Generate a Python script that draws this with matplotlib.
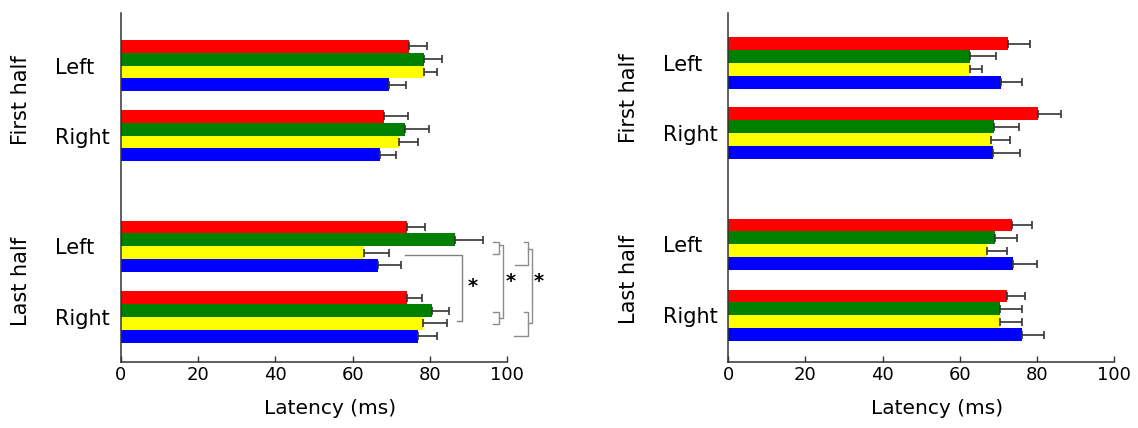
import numpy as np
import matplotlib
matplotlib.use("Agg")
import matplotlib.pyplot as plt
from matplotlib.transforms import blended_transform_factory

plt.rcParams['font.family'] = ['DejaVu Sans']

# rows top -> bottom: First half Left, First half Right, Last half Left, Last half Right
rows = ['Left', 'Right', 'Left', 'Right']
halves = ['First half', 'Last half']
colors = ['#ff0000', '#008000', '#ffff00', '#0000ff']  # red, green, yellow, blue

# left panel means / errors (one value per row)
L_red = [74.6, 68.2, 74.1, 74.0]
L_green = [78.5, 73.5, 86.4, 80.6]
L_yellow = [78.5, 71.9, 63.0, 78.3]
L_blue = [69.3, 67.1, 66.5, 77.0]
L_red_err = [4.7, 6.2, 4.5, 4.0]
L_green_err = [4.5, 6.3, 7.2, 4.4]
L_yellow_err = [3.4, 4.9, 6.5, 6.1]
L_blue_err = [4.4, 4.1, 5.9, 4.7]

# right panel
R_red = [72.6, 80.2, 73.6, 72.2]
R_green = [62.7, 68.9, 69.0, 70.3]
R_yellow = [62.6, 68.1, 67.0, 70.3]
R_blue = [70.8, 68.6, 73.9, 76.1]
R_red_err = [5.6, 6.0, 5.1, 4.7]
R_green_err = [6.6, 6.4, 5.9, 5.7]
R_yellow_err = [3.1, 4.9, 5.3, 5.7]
R_blue_err = [5.2, 6.9, 6.1, 5.6]

pos = np.array([0, 1, 2.58, 3.59])
h = 0.183

fig = plt.figure(figsize=(11.38, 4.28), dpi=100)
axL = fig.add_axes([0.1061, 0.1542, 0.3397, 0.816])
axR = fig.add_axes([0.6400, 0.1542, 0.3390, 0.816])


def panel(ax, means, errs, ylim):
    for k, (m, e) in enumerate(zip(means, errs)):
        y = pos + (k - 1.5) * h
        ax.barh(y, m, height=h, color=colors[k], edgecolor='none', zorder=2)
        ax.errorbar(m, y, xerr=[np.zeros(len(e)), e], fmt='none', ecolor='#333333',
                    elinewidth=1.2, capsize=3, capthick=1.2, zorder=3)
    ax.set_xlim(0, 100)
    ax.set_ylim(*ylim)
    ax.set_xticks([0, 20, 40, 60, 80, 100])
    ax.tick_params(axis='x', direction='in', length=4, width=1, labelsize=13, pad=3, color='#333333')
    ax.set_yticks(pos)
    ax.set_yticklabels(rows, fontsize=15)
    ax.tick_params(axis='y', length=0, pad=47)
    for t in ax.get_yticklabels():
        t.set_horizontalalignment('left')
        t.set_verticalalignment('center_baseline')
    for s in ['top', 'right']:
        ax.spines[s].set_visible(False)
    for s in ['left', 'bottom']:
        ax.spines[s].set_linewidth(1.1)
        ax.spines[s].set_color('#333333')
    ax.set_xlabel('Latency (ms)', fontsize=14.5, labelpad=10)
    ax.xaxis.set_label_coords(0.541, -0.105)
    tr = blended_transform_factory(ax.transAxes, ax.transData)
    ax.text(-0.258, (pos[0] + pos[1]) / 2, halves[0], rotation=90, fontsize=15,
            ha='center', va='center', transform=tr)
    ax.text(-0.258, (pos[2] + pos[3]) / 2, halves[1], rotation=90, fontsize=15,
            ha='center', va='center', transform=tr)


panel(axL, [L_red, L_green, L_yellow, L_blue],
      [L_red_err, L_green_err, L_yellow_err, L_blue_err], (4.233, -0.754))
panel(axR, [R_red, R_green, R_yellow, R_blue],
      [R_red_err, R_green_err, R_yellow_err, R_blue_err], (4.254, -0.713))

# significance brackets on the left panel
gray = '#8c8c8c'
def line(xs, ys, c=gray):
    axL.plot(xs, ys, color=c, lw=1, clip_on=False, zorder=4)

line([73.5, 88.4, 88.4, 87.0], [2.70, 2.70, 3.65, 3.65], '#808080')
line([96.4, 97.8, 97.8, 96.4], [2.517, 2.517, 2.693, 2.693])
line([97.8, 99.0, 99.0, 97.8], [2.564, 2.564, 3.611, 3.611])
line([96.4, 97.8, 97.8, 96.4], [3.514, 3.514, 3.697, 3.697])
line([104.3, 105.4, 105.4, 102.0], [2.526, 2.526, 2.850, 2.850])
line([105.4, 106.5, 106.5, 105.4], [2.621, 2.621, 3.669, 3.669])
line([104.3, 105.4, 105.4, 101.7], [3.514, 3.514, 3.860, 3.860])
for sx, sy in [(91.1, 3.15), (100.8, 3.08), (108.2, 3.09)]:
    axL.text(sx, sy, '*', fontsize=14, fontweight='bold', ha='center', va='center',
             clip_on=False)

fig.savefig('out.png', dpi=100)
